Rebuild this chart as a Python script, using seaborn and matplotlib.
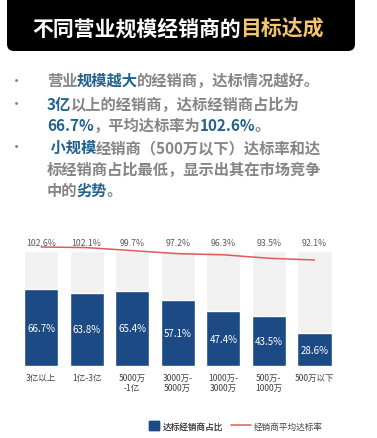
import matplotlib
matplotlib.use('Agg')
import matplotlib.pyplot as plt
import seaborn as sns
import numpy as np
from matplotlib.patches import FancyBboxPatch, Patch
from matplotlib.lines import Line2D

# data
categories = ['3亿以上', '1亿-3亿', '5000万\n-1亿', '3000万-\n5000万',
              '1000万-\n3000万', '500万-\n1000万', '500万以下']
share = [66.7, 63.8, 65.4, 57.1, 47.4, 43.5, 28.6]       # 达标经销商占比
avg_rate = [102.6, 102.1, 99.7, 97.2, 96.3, 93.5, 92.1]  # 经销商平均达标率
full = [100] * len(categories)

BLUE = '#1C4A85'
GREY_BAR = '#F1F1F1'
RED = '#E05A5A'
TXT_GREY = '#858585'
HL_BLUE = '#22628E'
GOLD = '#F3C66E'

sns.set_theme(style='white')
plt.rcParams['font.family'] = ['Noto Sans CJK SC', 'DejaVu Sans']

W, H = 377, 439
fig = plt.figure(figsize=(W / 100, H / 100), dpi=100)

# overlay axes in pixel coordinates for the header / bullet text
bg = fig.add_axes([0, 0, 1, 1])
bg.set_xlim(0, W)
bg.set_ylim(H, 0)
bg.axis('off')


def rich_line(x, y, parts, size, weight='bold'):
    # chain text pieces so each colour starts where the previous ended
    t = bg.text(x, y, parts[0][0], color=parts[0][1], fontsize=size,
                fontweight=weight, va='center', ha='left')
    for s, c in parts[1:]:
        t = bg.annotate(s, xy=(1, 0), xycoords=t, xytext=(-0.4, 0),
                        textcoords='offset points', va='bottom', ha='left',
                        color=c, fontsize=size, fontweight=weight)
    return t


# title box
bg.add_patch(FancyBboxPatch((7, -6), 348, 58, boxstyle='round,pad=0,rounding_size=7',
                            fc='black', ec='none'))
rich_line(32, 29, [('不同营业规模经销商的', 'white'), ('目标达成', GOLD)], 15)

# bullets
for yb in [81, 105, 148]:
    bg.text(17, yb, '•', color=TXT_GREY, fontsize=11, va='center', ha='center')

g, b = TXT_GREY, HL_BLUE
rich_line(47, 81, [('营业', g), ('规模越大', b), ('的经销商，达标情况越好。', g)], 11)
rich_line(47, 105, [('3亿', b), ('以上的经销商，达标经销商占比为', g)], 11)
rich_line(47, 126, [('66.7%', b), ('，平均达标率为', g), ('102.6%', b), ('。', g)], 11)
rich_line(47, 148, [(' 小规模', b), ('经销商（500万以下）达标率和达', g)], 11)
rich_line(47, 170, [('标经销商占比最低，显示出其在市场竞争', g)], 11)
rich_line(47, 191, [('中的', g), ('劣势', b), ('。', g)], 11)

# chart axes
ax = fig.add_axes([18.25 / W, 72 / H, 319 / W, 120.75 / H])
ax.patch.set_alpha(0)
sns.barplot(x=categories, y=full, color=GREY_BAR, width=0.75, saturation=1, ax=ax)
sns.barplot(x=categories, y=share, color=BLUE, width=0.75, saturation=1, ax=ax)
ax.set_ylim(0, 105)
ax.set_xlim(-0.5, len(categories) - 0.5)
ax.set_yticks([])
ax.tick_params(axis='x', length=0, pad=5, labelsize=6.1, labelcolor='#404040')
sns.despine(ax=ax, left=True, bottom=True)

for i, v in enumerate(share):
    ax.text(i, v / 2, f'{v}%', color='white', fontsize=7, ha='center', va='center')
for i, v in enumerate(avg_rate):
    ax.text(i, 107, f'{v}%', color='#595959', fontsize=6.3, ha='center', va='center')

ax2 = ax.twinx()
sns.lineplot(x=np.arange(len(avg_rate)), y=avg_rate, color=RED, linewidth=1.1, ax=ax2)
ax2.set_ylim(6.5, 104)
ax2.set_yticks([])
ax2.set_xlim(-0.5, len(categories) - 0.5)
sns.despine(ax=ax2, left=True, bottom=True, right=True)

# legend
leg1 = fig.legend(handles=[Patch(color=BLUE)], labels=['达标经销商占比'],
                  loc='center left', bbox_to_anchor=(149 / W, 1 - 427 / H),
                  frameon=False, fontsize=6.2, handlelength=1.15, handleheight=1.15,
                  handletextpad=0.4, borderpad=0, borderaxespad=0)
leg1.get_texts()[0].set_color('#404040')
leg2 = fig.legend(handles=[Line2D([], [], color=RED, linewidth=1.1)], labels=['经销商平均达标率'],
                  loc='center left', bbox_to_anchor=(231 / W, 1 - 427 / H),
                  frameon=False, fontsize=6.2, handlelength=2.3,
                  handletextpad=0.3, borderpad=0, borderaxespad=0)
leg2.get_texts()[0].set_color('#404040')
fig.add_artist(leg1)

fig.savefig('out.png', dpi=100, facecolor='white')
